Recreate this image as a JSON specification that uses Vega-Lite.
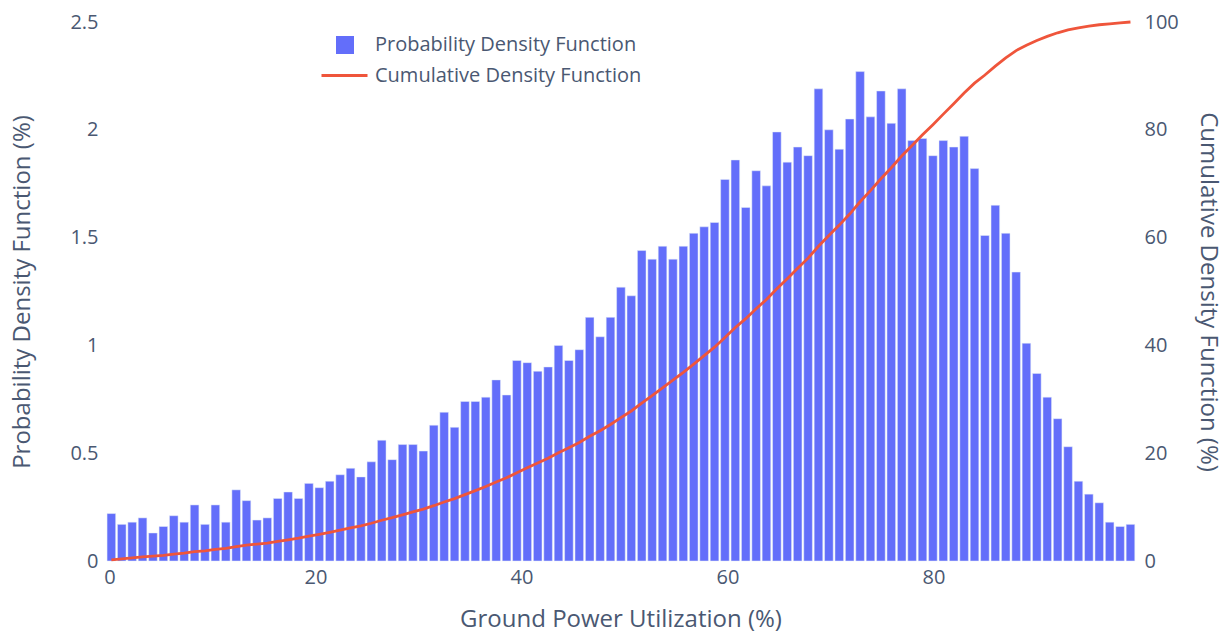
{
  "$schema": "https://vega.github.io/schema/vega-lite/v6.json",
  "width": 1039,
  "height": 539,
  "autosize": {"type": "none"},
  "padding": {"left": 101, "top": 22, "right": 87, "bottom": 72},
  "background": "white",
  "config": {
    "view": {"stroke": null},
    "font": "Open Sans",
    "axis": {"labelFont": "Open Sans", "titleFont": "Open Sans", "labelColor": "#4a5872", "titleColor": "#4a5872", "titleFontWeight": "normal", "domain": false, "ticks": false, "grid": false, "labelFontSize": 20, "titleFontSize": 24},
    "legend": {"labelFont": "Open Sans", "labelFontSize": 20, "labelColor": "#4a5872", "labelLimit": 600, "padding": 0, "title": null, "orient": "none"}
  },
  "data": {"values": [
    {"x":0.18,"pdf":0.22,"cdf":0.22},{"x":1.19,"pdf":0.17,"cdf":0.39},{"x":2.20,"pdf":0.18,"cdf":0.57},{"x":3.21,"pdf":0.20,"cdf":0.77},{"x":4.22,"pdf":0.13,"cdf":0.90},
    {"x":5.23,"pdf":0.16,"cdf":1.06},{"x":6.24,"pdf":0.21,"cdf":1.27},{"x":7.25,"pdf":0.18,"cdf":1.46},{"x":8.26,"pdf":0.26,"cdf":1.72},{"x":9.27,"pdf":0.17,"cdf":1.89},
    {"x":10.28,"pdf":0.26,"cdf":2.15},{"x":11.29,"pdf":0.18,"cdf":2.33},{"x":12.30,"pdf":0.33,"cdf":2.66},{"x":13.30,"pdf":0.28,"cdf":2.94},{"x":14.31,"pdf":0.19,"cdf":3.13},
    {"x":15.32,"pdf":0.20,"cdf":3.33},{"x":16.33,"pdf":0.29,"cdf":3.62},{"x":17.34,"pdf":0.32,"cdf":3.94},{"x":18.35,"pdf":0.29,"cdf":4.24},{"x":19.36,"pdf":0.36,"cdf":4.60},
    {"x":20.37,"pdf":0.34,"cdf":4.94},{"x":21.38,"pdf":0.37,"cdf":5.31},{"x":22.39,"pdf":0.40,"cdf":5.71},{"x":23.40,"pdf":0.43,"cdf":6.14},{"x":24.41,"pdf":0.39,"cdf":6.53},
    {"x":25.42,"pdf":0.46,"cdf":7.00},{"x":26.43,"pdf":0.56,"cdf":7.56},{"x":27.44,"pdf":0.47,"cdf":8.03},{"x":28.45,"pdf":0.54,"cdf":8.57},{"x":29.46,"pdf":0.54,"cdf":9.11},
    {"x":30.47,"pdf":0.51,"cdf":9.63},{"x":31.48,"pdf":0.63,"cdf":10.26},{"x":32.49,"pdf":0.69,"cdf":10.95},{"x":33.50,"pdf":0.62,"cdf":11.57},{"x":34.51,"pdf":0.74,"cdf":12.32},
    {"x":35.52,"pdf":0.74,"cdf":13.06},{"x":36.53,"pdf":0.76,"cdf":13.82},{"x":37.54,"pdf":0.84,"cdf":14.67},{"x":38.55,"pdf":0.77,"cdf":15.44},{"x":39.55,"pdf":0.93,"cdf":16.37},
    {"x":40.56,"pdf":0.92,"cdf":17.30},{"x":41.57,"pdf":0.88,"cdf":18.18},{"x":42.58,"pdf":0.90,"cdf":19.08},{"x":43.59,"pdf":1.00,"cdf":20.09},{"x":44.60,"pdf":0.93,"cdf":21.02},
    {"x":45.61,"pdf":0.98,"cdf":22.00},{"x":46.62,"pdf":1.13,"cdf":23.14},{"x":47.63,"pdf":1.04,"cdf":24.18},{"x":48.64,"pdf":1.13,"cdf":25.32},{"x":49.65,"pdf":1.27,"cdf":26.59},
    {"x":50.66,"pdf":1.23,"cdf":27.83},{"x":51.67,"pdf":1.44,"cdf":29.27},{"x":52.68,"pdf":1.40,"cdf":30.68},{"x":53.69,"pdf":1.46,"cdf":32.14},{"x":54.70,"pdf":1.40,"cdf":33.55},
    {"x":55.71,"pdf":1.46,"cdf":35.01},{"x":56.72,"pdf":1.52,"cdf":36.54},{"x":57.73,"pdf":1.55,"cdf":38.09},{"x":58.74,"pdf":1.57,"cdf":39.67},{"x":59.75,"pdf":1.77,"cdf":41.45},
    {"x":60.76,"pdf":1.86,"cdf":43.31},{"x":61.77,"pdf":1.64,"cdf":44.96},{"x":62.78,"pdf":1.81,"cdf":46.78},{"x":63.78,"pdf":1.74,"cdf":48.52},{"x":64.79,"pdf":1.99,"cdf":50.52},
    {"x":65.80,"pdf":1.85,"cdf":52.38},{"x":66.81,"pdf":1.92,"cdf":54.31},{"x":67.82,"pdf":1.88,"cdf":56.19},{"x":68.83,"pdf":2.19,"cdf":58.39},{"x":69.84,"pdf":2.00,"cdf":60.40},
    {"x":70.85,"pdf":1.91,"cdf":62.32},{"x":71.86,"pdf":2.05,"cdf":64.37},{"x":72.87,"pdf":2.27,"cdf":66.65},{"x":73.88,"pdf":2.06,"cdf":68.72},{"x":74.89,"pdf":2.18,"cdf":70.91},
    {"x":75.90,"pdf":2.03,"cdf":72.95},{"x":76.91,"pdf":2.19,"cdf":75.14},{"x":77.92,"pdf":1.95,"cdf":77.10},{"x":78.93,"pdf":1.96,"cdf":79.07},{"x":79.94,"pdf":1.88,"cdf":80.96},
    {"x":80.95,"pdf":1.95,"cdf":82.91},{"x":81.96,"pdf":1.92,"cdf":84.84},{"x":82.97,"pdf":1.97,"cdf":86.82},{"x":83.98,"pdf":1.82,"cdf":88.65},{"x":84.99,"pdf":1.51,"cdf":90.16},
    {"x":86.00,"pdf":1.65,"cdf":91.82},{"x":87.01,"pdf":1.52,"cdf":93.35},{"x":88.02,"pdf":1.34,"cdf":94.69},{"x":89.02,"pdf":1.01,"cdf":95.70},{"x":90.03,"pdf":0.87,"cdf":96.58},
    {"x":91.04,"pdf":0.76,"cdf":97.34},{"x":92.05,"pdf":0.66,"cdf":98.00},{"x":93.06,"pdf":0.53,"cdf":98.53},{"x":94.07,"pdf":0.37,"cdf":98.91},{"x":95.08,"pdf":0.31,"cdf":99.22},
    {"x":96.09,"pdf":0.27,"cdf":99.49},{"x":97.10,"pdf":0.18,"cdf":99.67},{"x":98.11,"pdf":0.16,"cdf":99.83},{"x":99.12,"pdf":0.17,"cdf":100.0}
  ]},
  "encoding": {
    "x": {"field": "x", "type": "quantitative",
      "scale": {"domain": [-0.34, 99.56], "nice": false, "zero": false},
      "axis": {"title": "Ground Power Utilization (%)", "values": [0, 20, 40, 60, 80], "labelPadding": 6, "titlePadding": 20}}
  },
  "layer": [
    {
      "mark": {"type": "bar", "size": 8.6, "stroke": "#E5ECF6", "strokeWidth": 0.5, "opacity": 1},
      "encoding": {
        "y": {"field": "pdf", "type": "quantitative",
          "scale": {"domain": [0, 2.5], "nice": false},
          "axis": {"orient": "left", "title": "Probability Density Function (%)", "values": [0, 0.5, 1, 1.5, 2, 2.5], "format": "~g", "labelPadding": 3, "titlePadding": 35}},
        "fill": {"datum": "Probability Density Function", "type": "nominal",
          "scale": {"domain": ["Probability Density Function"], "range": ["#636efa"]},
          "legend": {"legendX": 234, "legendY": 13, "symbolType": "square", "symbolSize": 324, "labelOffset": 20, "symbolStrokeWidth": 0}}
      }
    },
    {
      "mark": {"type": "line", "strokeWidth": 2.8, "interpolate": "linear"},
      "encoding": {
        "y": {"field": "cdf", "type": "quantitative",
          "scale": {"domain": [0, 100], "nice": false},
          "axis": {"orient": "right", "title": "Cumulative Density Function (%)", "values": [0, 20, 40, 60, 80, 100], "labelPadding": 4, "titlePadding": 17}},
        "stroke": {"datum": "Cumulative Density Function", "type": "nominal",
          "scale": {"domain": ["Cumulative Density Function"], "range": ["#ef553b"]},
          "legend": {"legendX": 219, "legendY": 29, "symbolType": "stroke", "symbolSize": 2116, "symbolStrokeWidth": 2.8, "labelOffset": 6}}
      }
    }
  ],
  "resolve": {"scale": {"y": "independent"}}
}
